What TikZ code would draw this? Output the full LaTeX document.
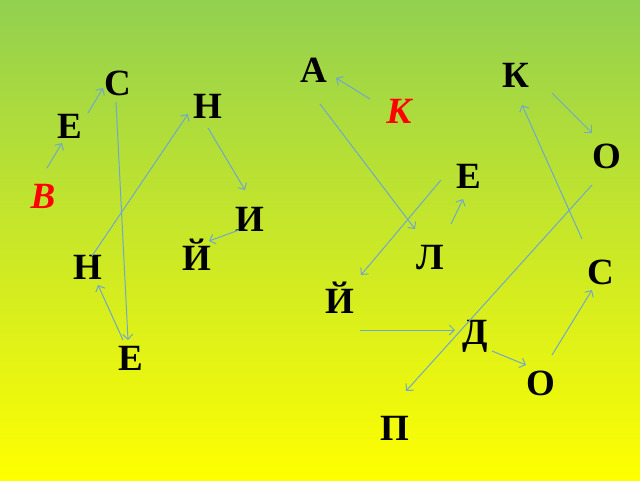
\documentclass[tikz,border=0pt]{standalone}
\usepackage{fontspec}
\setmainfont{Liberation Serif}
\usetikzlibrary{arrows.meta}

\definecolor{topgreen}{RGB}{146,208,80}
\definecolor{botyellow}{RGB}{255,255,0}
\definecolor{arrowblue}{RGB}{112,168,204}

\tikzset{
  letter/.style={anchor=base, inner sep=0pt, font=\fontsize{37}{42}\selectfont\bfseries},
  redletter/.style={letter, text=red, font=\fontsize{37}{42}\selectfont\bfseries\itshape},
  arr/.style={draw=arrowblue, line width=1pt, -{Straight Barb[length=5pt,width=10pt]}}
}

\begin{document}
\begin{tikzpicture}[x=1pt,y=-1pt]
	% background
	\shade[top color=topgreen, bottom color=botyellow] (0,0) rectangle (640,480);
	\useasboundingbox (0,0) rectangle (640,480);
	
	% left word
	\node[redletter] (v) at (43,208) {В};
	\node[letter] (e1) at (70,138) {Е};
	\node[letter] (s1) at (118,95) {С};
	\node[letter] (n1) at (208,118) {Н};
	\node[letter] (i) at (250,231) {И};
	\node[letter] (j1) at (197,270) {Й};
	\node[letter] (n2) at (88,279) {Н};
	\node[letter] (e2) at (131,370) {Е};
	
	\draw[arr] ([shift={(4,-40)}]v.base) -- ([shift={(-8,5)}]e1.base);
	\draw[arr] ([shift={(18,-25)}]e1.base) -- ([shift={(-15,-7)}]s1.base);
	\draw[arr] ([shift={(-2,7)}]s1.base) -- ([shift={(-3,-30)}]e2.base);
	\draw[arr] ([shift={(-8,-30)}]e2.base) -- ([shift={(10,6)}]n2.base);
	\draw[arr] ([shift={(4,-23)}]n2.base) -- ([shift={(-20,-4)}]n1.base);
	\draw[arr] ([shift={(0,10)}]n1.base) -- ([shift={(-5,-41)}]i.base);
	\draw[arr] ([shift={(-11,-1)}]i.base) -- ([shift={(12,-29)}]j1.base);
	
	% right word
	\node[redletter] (kr) at (399,123) {К};
	\node[letter] (a) at (314,82) {А};
	\node[letter] (l) at (430,269) {Л};
	\node[letter] (e3) at (469,188) {Е};
	\node[letter] (j2) at (340,313) {Й};
	\node[letter] (d) at (475,344) {Д};
	\node[letter] (o2) at (541,395) {О};
	\node[letter] (s2) at (601,284) {С};
	\node[letter] (k2) at (516,87) {К};
	\node[letter] (o1) at (607,168) {О};
	\node[letter] (p) at (395,440) {П};
	
	\draw[arr] ([shift={(-29,-24)}]kr.base) -- ([shift={(22,-4)}]a.base);
	\draw[arr] ([shift={(6,22)}]a.base) -- ([shift={(-15,-40)}]l.base);
	\draw[arr] ([shift={(21,-45)}]l.base) -- ([shift={(-6,11)}]e3.base);
	\draw[arr] ([shift={(-28,-8)}]e3.base) -- ([shift={(21,-38)}]j2.base);
	\draw[arr] ([shift={(20,17)}]j2.base) -- ([shift={(-20,-14)}]d.base);
	\draw[arr] ([shift={(17,7)}]d.base) -- ([shift={(-15,-30)}]o2.base);
	\draw[arr] ([shift={(11,-40)}]o2.base) -- ([shift={(-9,6)}]s2.base);
	\draw[arr] ([shift={(-19,-45)}]s2.base) -- ([shift={(6,18)}]k2.base);
	\draw[arr] ([shift={(36,6)}]k2.base) -- ([shift={(-15,-35)}]o1.base);
	\draw[arr] ([shift={(-15,17)}]o1.base) -- ([shift={(11,-49)}]p.base);
\end{tikzpicture}
\end{document}
